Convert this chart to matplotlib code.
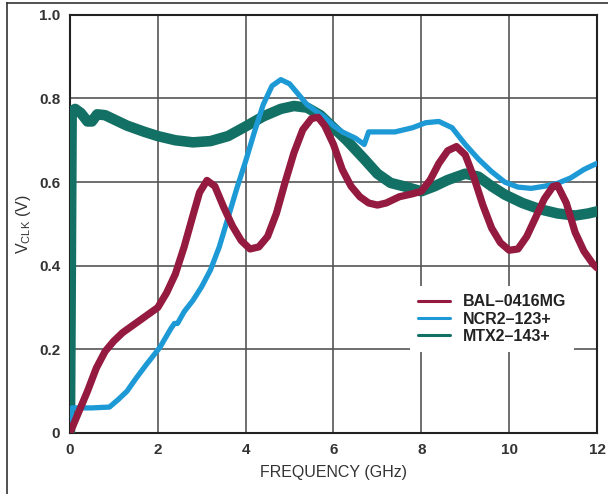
import matplotlib
matplotlib.use('Agg')
import matplotlib.pyplot as plt
from matplotlib.lines import Line2D

plt.rcParams['font.family'] = ['Liberation Sans', 'DejaVu Sans']

# BAL-0416MG (rojo)
bal_f = [0.0, 0.2, 0.4, 0.6, 0.8, 1.0, 1.2, 1.4, 1.6, 1.8, 2.0, 2.2, 2.4, 2.6, 2.8, 2.95,
         3.12, 3.3, 3.5, 3.7, 3.9, 4.1, 4.3, 4.5, 4.7, 4.9, 5.1, 5.3, 5.5, 5.65, 5.8, 6.0,
         6.2, 6.4, 6.6, 6.8, 7.0, 7.2, 7.5, 7.8, 8.0, 8.2, 8.4, 8.6, 8.8, 9.0, 9.2, 9.4,
         9.6, 9.8, 10.0, 10.2, 10.4, 10.6, 10.8, 11.0, 11.1, 11.3, 11.5, 11.7, 11.9, 12.0]
bal_v = [0.0, 0.05, 0.10, 0.155, 0.195, 0.22, 0.24, 0.255, 0.27, 0.285, 0.30, 0.335, 0.38,
         0.445, 0.52, 0.575, 0.604, 0.59, 0.54, 0.495, 0.46, 0.44, 0.445, 0.47, 0.525, 0.60,
         0.67, 0.725, 0.752, 0.755, 0.735, 0.69, 0.63, 0.59, 0.565, 0.55, 0.545, 0.55, 0.565,
         0.572, 0.578, 0.605, 0.645, 0.675, 0.685, 0.665, 0.61, 0.545, 0.49, 0.455, 0.437,
         0.44, 0.47, 0.515, 0.56, 0.59, 0.592, 0.55, 0.48, 0.435, 0.405, 0.395]

# NCR2-123+ (azul)
ncr_f = [0.0, 0.05, 0.5, 0.9, 1.1, 1.3, 1.5, 1.75, 2.05, 2.3, 2.38, 2.45, 2.6, 2.8, 3.0,
         3.2, 3.4, 3.6, 3.8, 4.0, 4.2, 4.4, 4.6, 4.8, 5.0, 5.2, 5.4, 5.6, 5.8, 6.0, 6.2,
         6.5, 6.7, 6.8, 7.0, 7.4, 7.8, 8.1, 8.4, 8.7, 9.0, 9.3, 9.6, 9.9, 10.2, 10.5,
         10.8, 11.1, 11.4, 11.7, 12.0]
ncr_v = [0.02, 0.06, 0.06, 0.062, 0.08, 0.10, 0.13, 0.165, 0.205, 0.25, 0.262, 0.262, 0.29,
         0.317, 0.35, 0.39, 0.445, 0.515, 0.585, 0.65, 0.72, 0.785, 0.83, 0.845, 0.835, 0.81,
         0.785, 0.77, 0.755, 0.735, 0.72, 0.705, 0.69, 0.72, 0.72, 0.72, 0.73, 0.742, 0.745,
         0.73, 0.69, 0.655, 0.625, 0.60, 0.588, 0.585, 0.59, 0.597, 0.61, 0.63, 0.645]

# MTX2-143+ (verde)
mtx_f = [0.0, 0.04, 0.12, 0.25, 0.4, 0.5, 0.62, 0.8, 1.0, 1.3, 1.7, 2.0, 2.4, 2.8, 3.2,
         3.6, 4.0, 4.4, 4.8, 5.1, 5.4, 5.7, 6.0, 6.3, 6.7, 7.0, 7.3, 7.6, 8.0, 8.3, 8.6,
         9.0, 9.3, 9.6, 9.9, 10.3, 10.7, 11.1, 11.5, 11.8, 12.0]
mtx_v = [0.0, 0.77, 0.775, 0.765, 0.745, 0.745, 0.762, 0.76, 0.75, 0.735, 0.72, 0.71, 0.70,
         0.695, 0.698, 0.71, 0.733, 0.757, 0.775, 0.782, 0.778, 0.76, 0.73, 0.70, 0.655,
         0.62, 0.598, 0.59, 0.578, 0.59, 0.605, 0.62, 0.613, 0.59, 0.57, 0.55, 0.535,
         0.525, 0.52, 0.525, 0.53]

fig = plt.figure(figsize=(6.08, 4.94), dpi=100)
ax = fig.add_axes([0.115, 0.1235, 0.867, 0.8465])

ax.plot(mtx_f, mtx_v, color='#137064', lw=7.6, label='MTX2\u2013143+',
        solid_capstyle='round', solid_joinstyle='round', zorder=3)
ax.plot(ncr_f, ncr_v, color='#1d9ad6', lw=3.8, label='NCR2\u2013123+',
        solid_capstyle='round', solid_joinstyle='round', zorder=4)
ax.plot(bal_f, bal_v, color='#951a40', lw=5.2, label='BAL\u20130416MG',
        solid_capstyle='round', solid_joinstyle='round', zorder=5)

ax.set_xlim(0, 12)
ax.set_ylim(0, 1.0)
ax.set_xticks([0, 2, 4, 6, 8, 10, 12])
ax.set_yticks([0, 0.2, 0.4, 0.6, 0.8, 1.0])
ax.set_yticklabels(['0', '0.2', '0.4', '0.6', '0.8', '1.0'])
ax.tick_params(length=0, labelsize=11, labelcolor='#333333', pad=7)
for lbl in ax.get_xticklabels() + ax.get_yticklabels():
    lbl.set_fontweight('bold')
ax.grid(True, color='#555555', lw=1.2)
ax.set_axisbelow(True)
for s in ax.spines.values():
    s.set_linewidth(1.5)
    s.set_color('#222222')

ax.set_xlabel('FREQUENCY (GHz)', fontsize=11.5, color='#333333', labelpad=6)
ax.set_ylabel('V$_{\\mathregular{CLK}}$ (V)', fontsize=11.5, color='#333333', labelpad=4)

handles, labels = ax.get_legend_handles_labels()
leg = ax.legend(handles[::-1], labels[::-1], loc='upper left',
                bbox_to_anchor=(0.63, 0.37), frameon=True, fancybox=False,
                edgecolor='none', facecolor='white', framealpha=1,
                fontsize=11.5, handlelength=2.0, labelspacing=0.15,
                borderpad=0.5)
for h in leg.get_lines():
    h.set_linewidth(2.2)
for t in leg.get_texts():
    t.set_color('#222222')
    t.set_fontweight('bold')

fig.add_artist(Line2D([7 / 608, 7 / 608], [0, 1 - 3 / 494], color='#333333', lw=1.2))
fig.add_artist(Line2D([7 / 608, 1], [1 - 3 / 494, 1 - 3 / 494], color='#333333', lw=1.2))

fig.savefig('out.png', dpi=100)
